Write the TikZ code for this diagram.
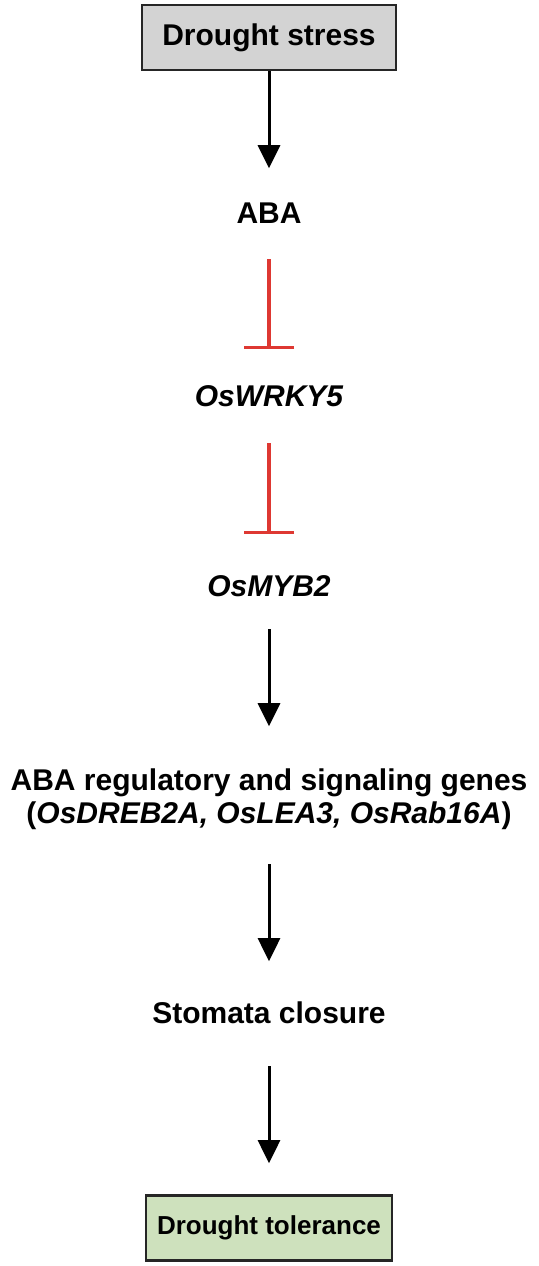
\documentclass[tikz,border=0pt]{standalone}
\usepackage{fontspec}
\setmainfont{Liberation Sans}
\usepackage{xcolor}
\usetikzlibrary{arrows.meta, positioning}

\definecolor{boxgray}{RGB}{211,211,211}
\definecolor{boxgreen}{RGB}{206,225,189}
\definecolor{inhred}{RGB}{222,56,50}

\begin{document}
\begin{tikzpicture}[
    box/.style={rectangle, draw=black!85, line width=1.2pt, inner sep=0pt,
                minimum height=32.5pt, font=\fontsize{15}{16.5}\selectfont\bfseries},
    lbl/.style={inner sep=0pt, outer sep=0pt, align=center,
                font=\fontsize{15}{16.5}\selectfont\bfseries},
    txt/.style={lbl, text height=11pt, text depth=0pt},
    arrow/.style={-{Triangle[width=11pt, length=11.5pt]}, line width=1.5pt},
    inhibit/.style={-{Bar[width=25pt]}, line width=1.6pt, draw=inhred}
  ]
  \useasboundingbox (0,0) rectangle (269pt,633pt);

  \node[box, fill=boxgray, minimum width=127pt] (stress) at (134.5pt,614.25pt) {Drought stress};
  \node[txt, below=65pt of stress]   (aba)     {ABA};
  \node[txt, below=80.5pt of aba]    (wrky)    {\itshape OsWRKY5};
  \node[txt, below=84pt of wrky]     (myb)     {\itshape OsMYB2};
  \node[lbl, below=86.5pt of myb]    (genes)   {ABA regulatory and signaling genes\\(\textit{OsDREB2A, OsLEA3, OsRab16A})};
  \node[txt, below=85.5pt of genes]  (stomata) {Stomata closure};
  \node[box, fill=boxgreen, minimum width=123pt, font=\fontsize{13}{15}\selectfont\bfseries,
        below=85.5pt of stomata] (tol) {Drought tolerance};

  \draw[arrow, shorten >=16.5pt] (stress) -- (aba);
  \draw[inhibit, shorten <=18pt, shorten >=17.5pt] (aba) -- (wrky);
  \draw[inhibit, shorten <=18.5pt, shorten >=20pt] (wrky) -- (myb);
  \draw[arrow, shorten <=16.5pt, shorten >=21.5pt] (myb) -- (genes);
  \draw[arrow, shorten <=17pt, shorten >=20pt] (genes) -- (stomata);
  \draw[arrow, shorten <=21.5pt, shorten >=15.5pt] (stomata) -- (tol);
\end{tikzpicture}
\end{document}
